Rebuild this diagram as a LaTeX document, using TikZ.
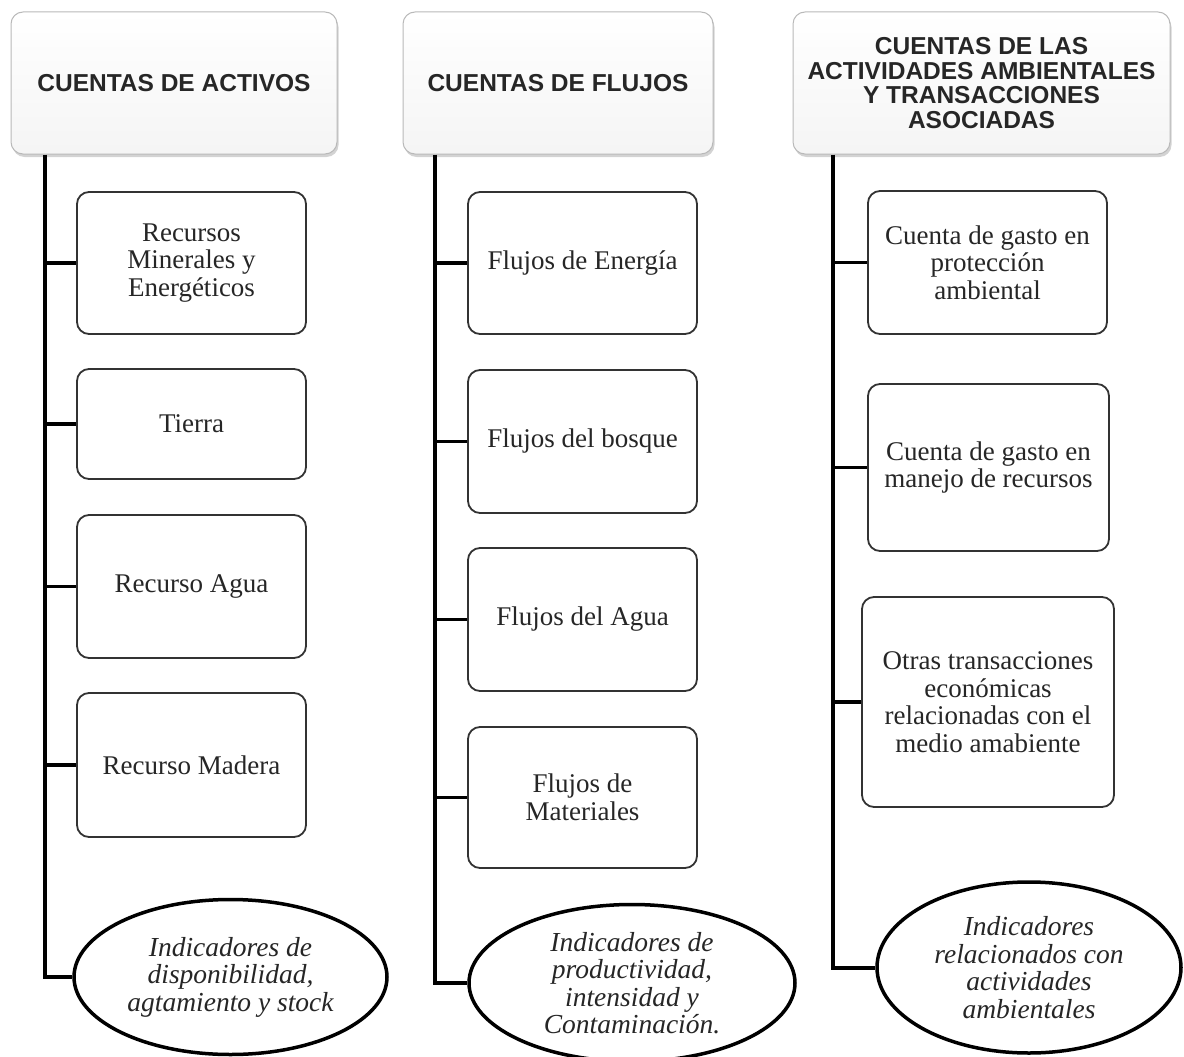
\documentclass[tikz,border=0pt]{standalone}
\usepackage{fontspec}
\setmainfont{Liberation Serif}
\newfontfamily\hdfont{Liberation Sans}
\usetikzlibrary{shapes.geometric,shadows}
\begin{document}
\begin{tikzpicture}[x=1pt,y=-1pt,
  hdr/.style={draw=gray!55, line width=1pt, rounded corners=12pt, top color=white, bottom color=gray!8,
    drop shadow={shadow xshift=1.5pt, shadow yshift=-3pt, opacity=0.35},
    font=\hdfont\bfseries\fontsize{24.5}{24.7}\selectfont, align=center, inner sep=0pt, text=black!85},
  itembox/.style={draw=black!80, line width=1.8pt, rounded corners=12pt, fill=white,
    font=\fontsize{27}{27.5}\selectfont, align=center, inner sep=0pt, text=black!85},
  indic/.style={ellipse, draw=black, line width=3.5pt, fill=white,
    font=\itshape\fontsize{27.5}{27.5}\selectfont, align=center, inner sep=0pt, text=black!85},
  trunk/.style={line width=4pt, black},
  twig/.style={line width=3.8pt, black},
]
\useasboundingbox (0,0) rectangle (1184,1057);

% headers
\node[hdr, minimum width=326pt, minimum height=142pt] (h1) at (174,83) {CUENTAS DE ACTIVOS};
\node[hdr, minimum width=310pt, minimum height=142pt] (h2) at (558,83) {CUENTAS DE FLUJOS};
\node[hdr, minimum width=377pt, minimum height=142pt] (h3) at (981.5,83) {CUENTAS DE LAS\\ACTIVIDADES AMBIENTALES\\Y TRANSACCIONES\\ASOCIADAS};

% column 1
\node[itembox, minimum width=229pt, minimum height=142pt] (b11) at (191.5,263) {Recursos\\Minerales y\\Energéticos};
\node[itembox, minimum width=229pt, minimum height=110pt] (b12) at (191.5,424) {Tierra};
\node[itembox, minimum width=229pt, minimum height=143pt] (b13) at (191.5,586.5) {Recurso Agua};
\node[itembox, minimum width=229pt, minimum height=144pt] (b14) at (191.5,765) {Recurso Madera};
\node[indic, minimum width=313pt, minimum height=155pt] (e1) at (230.5,977) {Indicadores de\\disponibilidad,\\agtamiento y stock};

% column 2
\node[itembox, minimum width=229pt, minimum height=142pt] (b21) at (582.5,263) {Flujos de Energía};
\node[itembox, minimum width=229pt, minimum height=143pt] (b22) at (582.5,441.5) {Flujos del bosque};
\node[itembox, minimum width=229pt, minimum height=143pt] (b23) at (582.5,619.5) {Flujos del Agua};
\node[itembox, minimum width=229pt, minimum height=141pt] (b24) at (582.5,797.5) {Flujos de\\Materiales};
\node[indic, minimum width=326pt, minimum height=157pt] (e2) at (632,983) {Indicadores de\\productividad,\\intensidad y\\Contaminación.};

% column 3
\node[itembox, minimum width=239pt, minimum height=143pt] (b31) at (987.5,262.5) {Cuenta de gasto en\\protección\\ambiental};
\node[itembox, minimum width=241pt, minimum height=167pt] (b32) at (988.5,467.5) {Cuenta de gasto en\\manejo de recursos};
\node[itembox, minimum width=252pt, minimum height=210pt] (b33) at (988,702) {Otras transacciones\\económicas\\relacionadas con el\\medio amabiente};
\node[indic, minimum width=304pt, minimum height=171pt] (e3) at (1029,967.5) {Indicadores\\relacionados con\\actividades\\ambientales};

% trunks
\coordinate (t1) at (45,154);
\coordinate (t2) at (435,154);
\coordinate (t3) at (833,154);
\draw[trunk] (h1.south -| t1) |- (e1.west);
\draw[trunk] (h2.south -| t2) |- (e2.west);
\draw[trunk] (h3.south -| t3) |- (e3.west);

% twigs
\foreach \b in {b11,b12,b13,b14} {\draw[twig] (\b.west -| t1) -- (\b.west);}
\foreach \b in {b21,b22,b23,b24} {\draw[twig] (\b.west -| t2) -- (\b.west);}
\foreach \b in {b31,b32,b33} {\draw[twig] (\b.west -| t3) -- (\b.west);}
\end{tikzpicture}
\end{document}
